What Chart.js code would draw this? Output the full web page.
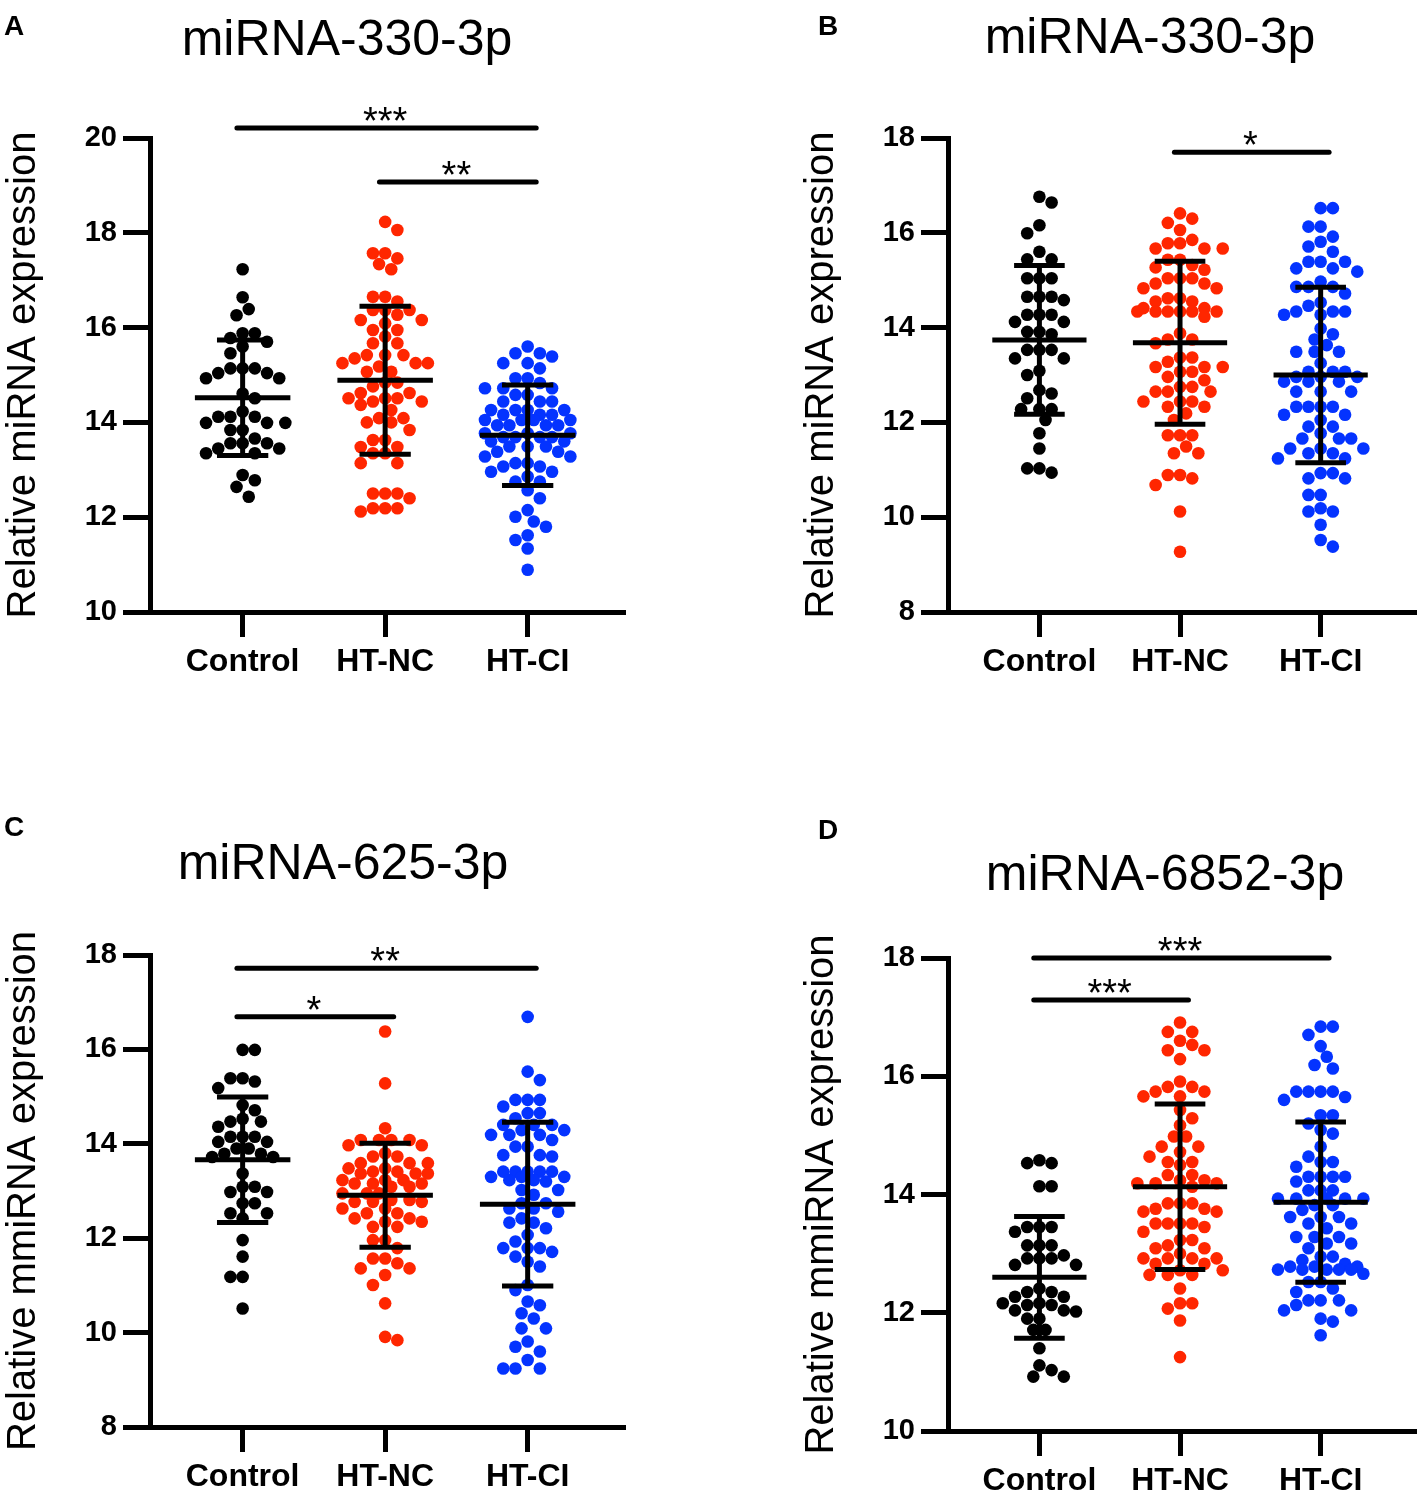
<!DOCTYPE html>
<html>
<head>
<meta charset="utf-8">
<title>miRNA expression</title>
<script src="https://cdn.jsdelivr.net/npm/chart.js@4.4.0/dist/chart.umd.min.js"></script>
<style>
  html, body { margin: 0; padding: 0; background: #fff; overflow: hidden; }
  body { width: 1423px; height: 1492px; position: relative; }
  .panel { position: absolute; }
  .panel canvas { display: block; }
</style>
</head>
<body>
<div class="panel" style="left:0;top:0"><canvas id="chartA" width="700" height="700"></canvas></div>
<div class="panel" style="left:798px;top:0"><canvas id="chartB" width="625" height="700"></canvas></div>
<div class="panel" style="left:0;top:817px"><canvas id="chartC" width="700" height="675"></canvas></div>
<div class="panel" style="left:798px;top:820px"><canvas id="chartD" width="625" height="672"></canvas></div>

<script>
const FONT = "'Liberation Sans', Arial, Helvetica, sans-serif";
const groups = ['Control', 'HT-NC', 'HT-CI'];
const colors = ['#000000', '#ff2600', '#0433ff'];

// A: miRNA-330-3p (first cohort)
const aControl = [17.23, 16.64, 16.39, 16.26, 15.88, 15.88, 15.78, 15.70, 15.60, 15.46, 15.14, 15.14, 15.14, 15.04, 15.04,
  14.93, 14.93, 14.61, 14.51, 14.23, 14.12, 14.12, 14.12, 13.99, 13.99, 13.99, 13.84, 13.84, 13.66, 13.56, 13.56, 13.56,
  13.45, 13.45, 13.35, 13.35, 12.89, 12.78, 12.64, 12.43];
const aHtNc = [18.23, 18.06, 17.57, 17.57, 17.46, 17.34, 17.23, 16.65, 16.65, 16.55, 16.37, 16.37, 16.37, 16.27, 16.16,
  16.16, 16.09, 15.95, 15.95, 15.81, 15.67, 15.67, 15.42, 15.42, 15.42, 15.35, 15.25, 15.25, 15.25, 15.18, 15.07, 15.07,
  14.84, 14.84, 14.76, 14.62, 14.62, 14.51, 14.51, 14.51, 14.44, 14.44, 14.37, 14.26, 14.09, 14.09, 14.00, 14.00, 13.84,
  13.63, 13.63, 13.48, 13.48, 13.35, 13.35, 13.14, 13.14, 12.50, 12.50, 12.50, 12.40, 12.19, 12.19, 12.19, 12.12];
const aHtCi = [15.60, 15.46, 15.46, 15.39, 15.25, 15.25, 15.14, 14.93, 14.93, 14.83, 14.72, 14.72, 14.72, 14.58, 14.58,
  14.44, 14.44, 14.44, 14.26, 14.26, 14.26, 14.26, 14.16, 14.16, 14.16, 14.05, 14.05, 14.05, 14.05, 13.94, 13.94, 13.94,
  13.94, 13.77, 13.77, 13.77, 13.69, 13.69, 13.69, 13.69, 13.60, 13.60, 13.49, 13.49, 13.49, 13.38, 13.38, 13.28, 13.28,
  13.14, 13.14, 13.07, 13.07, 12.96, 12.96, 12.86, 12.75, 12.75, 12.57, 12.40, 12.15, 12.01, 11.91, 11.80, 11.62, 11.52,
  11.34, 10.89];
const meansA = [14.52, 14.89, 13.73];
const sdsA = [1.22, 1.56, 1.06];
const bracketsA = [
  { from: 0, to: 2, y: 20.21, label: '***' },
  { from: 1, to: 2, y: 19.07, label: '**' }
];

// B: miRNA-330-3p (second cohort)
const bControl = [16.76, 16.64, 16.16, 15.99, 15.60, 15.44, 15.44, 15.04, 15.04, 15.04, 14.65, 14.65, 14.65, 14.58,
  14.27, 14.27, 14.27, 14.12, 14.12, 13.91, 13.91, 13.86, 13.53, 13.53, 13.53, 13.35, 13.35, 13.09, 13.00, 12.68, 12.61,
  12.51, 12.28, 12.28, 12.28, 12.05, 11.77, 11.45, 11.03, 11.03, 10.94];
const bHtNc = [16.41, 16.30, 16.21, 16.06, 15.85, 15.78, 15.78, 15.67, 15.67, 15.67, 15.43, 15.43, 15.32, 15.27, 15.22,
  15.04, 15.04, 15.04, 14.93, 14.93, 14.83, 14.83, 14.62, 14.62, 14.55, 14.55, 14.41, 14.41, 14.34, 14.34, 14.34, 14.34,
  14.34, 14.34, 14.23, 13.88, 13.75, 13.75, 13.67, 13.37, 13.37, 13.28, 13.17, 13.17, 13.17, 13.07, 13.07, 12.96, 12.89,
  12.75, 12.75, 12.65, 12.65, 12.65, 12.44, 12.44, 12.44, 12.33, 12.33, 12.19, 12.05, 11.73, 11.73, 11.73, 11.49, 11.35,
  11.35, 10.89, 10.89, 10.82, 10.68, 10.12, 9.27];
const bHtCi = [16.52, 16.52, 16.13, 16.13, 15.92, 15.81, 15.71, 15.60, 15.39, 15.39, 15.39, 15.25, 15.25, 15.18, 14.97,
  14.86, 14.86, 14.86, 14.72, 14.53, 14.46, 14.34, 14.34, 14.34, 14.27, 14.27, 13.98, 13.86, 13.75, 13.63, 13.49, 13.49,
  13.49, 13.25, 13.07, 13.07, 13.07, 12.96, 12.96, 12.96, 12.86, 12.86, 12.86, 12.65, 12.65, 12.65, 12.33, 12.33, 12.33,
  12.33, 12.16, 12.16, 12.05, 11.91, 11.91, 11.77, 11.66, 11.66, 11.66, 11.45, 11.45, 11.45, 11.35, 11.35, 11.24, 11.24,
  10.93, 10.93, 10.82, 10.82, 10.47, 10.47, 10.19, 10.12, 10.12, 9.84, 9.52, 9.38];
const meansB = [13.74, 13.68, 13.00];
const sdsB = [1.57, 1.72, 1.85];
const bracketsB = [
  { from: 1, to: 2, y: 17.70, label: '*' }
];

// C: miRNA-625-3p
const cControl = [15.99, 15.99, 15.39, 15.39, 15.32, 15.18, 14.82, 14.71, 14.53, 14.47, 14.47, 14.36, 14.15, 14.15, 14.15,
  14.04, 14.04, 13.90, 13.90, 13.79, 13.79, 13.72, 13.72, 13.37, 13.09, 13.09, 12.98, 12.98, 12.74, 12.74, 12.53, 12.53,
  12.42, 11.96, 11.61, 11.18, 11.18, 10.51];
const cHtNc = [16.38, 15.28, 14.33, 14.08, 14.08, 14.08, 14.08, 13.97, 13.97, 13.80, 13.73, 13.73, 13.59, 13.59,
  13.59, 13.48, 13.48, 13.41, 13.41, 13.37, 13.37, 13.37, 13.23, 13.23, 13.23, 13.16, 13.16,
  13.16, 13.09, 13.09, 12.95, 12.95, 12.95, 12.81, 12.81, 12.77, 12.77, 12.77, 12.63, 12.63, 12.53, 12.53, 12.42,
  12.42, 12.35, 12.35, 12.24, 12.24, 11.96, 11.96, 11.79, 11.57, 11.57, 11.47, 11.36, 11.36, 11.22, 11.01, 10.62, 9.91, 9.84];
const cHtCi = [16.69, 15.53, 15.35, 14.93, 14.93, 14.93, 14.79, 14.65, 14.65, 14.54, 14.40, 14.40, 14.40, 14.29, 14.29,
  14.19, 14.19, 14.19, 14.08, 13.94, 13.94, 13.76, 13.76, 13.73, 13.41, 13.41, 13.41, 13.41, 13.41, 13.30, 13.30,
  13.30, 13.23, 13.23, 13.20, 13.02, 13.02, 12.92, 12.74, 12.74, 12.63, 12.63, 12.56, 12.42, 12.33, 12.33,
  12.21, 12.07, 11.93, 11.79, 11.79, 11.79, 11.71, 11.61, 11.50, 11.40, 11.01, 10.90, 10.66, 10.58, 10.41, 10.30, 10.09,
  10.09, 9.81, 9.70, 9.60, 9.42, 9.24, 9.24, 9.24];
const meansC = [13.66, 12.91, 12.72];
const sdsC = [1.33, 1.10, 1.735];
const bracketsC = [
  { from: 0, to: 2, y: 17.72, label: '**' },
  { from: 0, to: 1, y: 16.69, label: '*' }
];

// D: miRNA-6852-3p
const dControl = [14.58, 14.53, 14.53, 14.14, 14.14, 13.45, 13.45, 13.45, 13.37, 13.14, 13.14, 13.14, 12.97, 12.92, 12.92,
  12.92, 12.81, 12.81, 12.41, 12.35, 12.35, 12.27, 12.27, 12.16, 12.16, 12.13, 12.13, 12.04, 12.04, 12.02, 11.90, 11.90,
  11.71, 11.71, 11.40, 11.11, 11.03, 10.92, 10.92];
const dHtNc = [16.91, 16.75, 16.75, 16.60, 16.53, 16.44, 16.44, 16.29, 15.91, 15.82, 15.82, 15.74, 15.74, 15.66, 15.66,
  15.43, 15.29, 15.17, 14.98, 14.98, 14.81, 14.81, 14.72, 14.64, 14.55, 14.55, 14.50, 14.33, 14.33, 14.24, 14.24, 14.19,
  14.19, 14.19, 14.13, 13.85, 13.85, 13.85, 13.76, 13.76, 13.71, 13.71, 13.51, 13.51, 13.51, 13.51, 13.45, 13.37, 13.23,
  13.23, 13.14, 13.09, 13.09, 13.00, 12.92, 12.92, 12.92, 12.92, 12.83, 12.83, 12.72, 12.72, 12.64, 12.64, 12.64, 12.41,
  12.16, 12.16, 12.07, 11.87, 11.25];
const dHtCi = [16.84, 16.84, 16.70, 16.51, 16.33, 16.19, 16.13, 15.74, 15.74, 15.74, 15.74, 15.65, 15.60, 15.34, 15.34,
  15.20, 15.09, 15.03, 14.81, 14.64, 14.55, 14.55, 14.47, 14.30, 14.30, 14.30, 14.30, 14.22, 14.07, 14.07, 14.07, 13.93,
  13.93, 13.93, 13.93, 13.93, 13.82, 13.82, 13.74, 13.62, 13.62, 13.62, 13.51, 13.51, 13.43, 13.28, 13.28, 13.28, 13.17,
  13.17, 13.09, 12.95, 12.95, 12.89, 12.83, 12.78, 12.78, 12.78, 12.73, 12.73, 12.73, 12.73, 12.73, 12.66, 12.52, 12.52,
  12.41, 12.35, 12.21, 12.21, 12.21, 12.13, 12.04, 12.04, 11.90, 11.85, 11.62];
const meansD = [12.60, 14.13, 13.87];
const sdsD = [1.03, 1.40, 1.355];
const bracketsD = [
  { from: 0, to: 2, y: 18.00, label: '***' },
  { from: 0, to: 1, y: 17.29, label: '***' }
];

// mean / SD bar widths in category units, dot size in px
const MEAN_HALF = 0.335;
const CAP_HALF = 0.18;
const DOT_R = 6.3;
const DOT_GAP = 12.2;
const HALF_STEP = 6.1;
const MAX_OFF = 46;

const panels = [
  { id: 'chartA', letter: 'A', title: 'miRNA-330-3p', yLabel: 'Relative miRNA expression', yMin: 10, yMax: 20,
    series: [aControl, aHtNc, aHtCi], means: meansA, sds: sdsA, brackets: bracketsA,
    w: 700, h: 700, plotTop: 138, plotBottom: 612, titleX: 347, titleY: 55, letterX: 4, letterY: 35 },
  { id: 'chartB', letter: 'B', title: 'miRNA-330-3p', yLabel: 'Relative miRNA expression', yMin: 8, yMax: 18,
    series: [bControl, bHtNc, bHtCi], means: meansB, sds: sdsB, brackets: bracketsB,
    w: 625, h: 700, plotTop: 138, plotBottom: 612, titleX: 352, titleY: 53, letterX: 20, letterY: 35 },
  { id: 'chartC', letter: 'C', title: 'miRNA-625-3p', yLabel: 'Relative mmiRNA expression', yMin: 8, yMax: 18,
    series: [cControl, cHtNc, cHtCi], means: meansC, sds: sdsC, brackets: bracketsC,
    w: 700, h: 675, plotTop: 138, plotBottom: 610, titleX: 343, titleY: 62, letterX: 4, letterY: 19 },
  { id: 'chartD', letter: 'D', title: 'miRNA-6852-3p', yLabel: 'Relative mmiRNA expression', yMin: 10, yMax: 18,
    series: [dControl, dHtNc, dHtCi], means: meansD, sds: sdsD, brackets: bracketsD,
    w: 625, h: 672, plotTop: 138, plotBottom: 611, titleX: 367, titleY: 70, letterX: 20, letterY: 19 }
];

function seg(ctx, x1, y1, x2, y2) {
  ctx.beginPath();
  ctx.moveTo(x1, y1);
  ctx.lineTo(x2, y2);
  ctx.stroke();
}

// mean ± SD bars, significance lines, titles
function overlay(p) {
  return {
    id: 'overlay' + p.letter,
    afterDatasetsDraw(chart) {
      const { ctx, scales: { x, y } } = chart;
      ctx.save();
      ctx.strokeStyle = '#000';
      ctx.fillStyle = '#000';
      ctx.lineWidth = 5;
      ctx.lineCap = 'butt';
      p.means.forEach((m, i) => {
        const s = p.sds[i];
        const ym = y.getPixelForValue(m);
        seg(ctx, x.getPixelForValue(i - MEAN_HALF), ym, x.getPixelForValue(i + MEAN_HALF), ym);
        seg(ctx, x.getPixelForValue(i), y.getPixelForValue(m - s), x.getPixelForValue(i), y.getPixelForValue(m + s));
        [m - s, m + s].forEach(v => {
          const yv = y.getPixelForValue(v);
          seg(ctx, x.getPixelForValue(i - CAP_HALF), yv, x.getPixelForValue(i + CAP_HALF), yv);
        });
      });

      ctx.lineCap = 'round';
      ctx.font = '38px ' + FONT;
      ctx.textAlign = 'center';
      ctx.textBaseline = 'alphabetic';
      p.brackets.forEach(b => {
        const yb = y.getPixelForValue(b.y);
        seg(ctx, x.getPixelForValue(b.from - 0.04), yb, x.getPixelForValue(b.to + 0.06), yb);
        ctx.fillText(b.label, x.getPixelForValue((b.from + b.to) / 2), yb + 6);
      });

      ctx.font = '50px ' + FONT;
      ctx.fillText(p.title, p.titleX, p.titleY);
      ctx.textAlign = 'left';
      ctx.font = 'bold 28px ' + FONT;
      ctx.fillText(p.letter, p.letterX, p.letterY);
      ctx.restore();
    }
  };
}

// spread dots sideways so they do not overlap (column scatter),
// keeping each column within MAX_OFF px of its centre
function swarm(chart) {
  const xs = chart.scales.x, ys = chart.scales.y;
  const maxStep = Math.floor(MAX_OFF / HALF_STEP);
  chart.data.datasets.forEach((ds, gi) => {
    const cx = xs.getPixelForValue(gi);
    const items = ds.data.map(pt => ({ pt, py: ys.getPixelForValue(pt.y), off: 0 }))
      .sort((a, b) => a.py - b.py);
    const placed = [];
    let side = 1;
    items.forEach(it => {
      const near = placed.filter(q => Math.abs(q.py - it.py) < DOT_GAP);
      let chosen = null, best = null, bestGap = -1;
      for (let step = 0; step <= maxStep && chosen === null; step++) {
        const tries = step === 0 ? [0] : [side * step * HALF_STEP, -side * step * HALF_STEP];
        for (const off of tries) {
          let gap = Infinity;
          near.forEach(q => { gap = Math.min(gap, Math.hypot(q.off - off, q.py - it.py)); });
          if (gap >= DOT_GAP) { chosen = off; break; }
          if (gap > bestGap + 0.5) { bestGap = gap; best = off; }
        }
      }
      if (chosen === null) chosen = best;
      if (chosen !== 0) side = -Math.sign(chosen);
      it.off = chosen;
      placed.push(it);
      it.pt.x = xs.getValueForPixel(cx + chosen);
    });
  });
  chart.update('none');
}

panels.forEach(p => {
  const chart = new Chart(document.getElementById(p.id), {
    type: 'scatter',
    data: {
      datasets: p.series.map((vals, i) => ({
        label: groups[i],
        data: vals.map(v => ({ x: i, y: v })),
        backgroundColor: colors[i],
        borderWidth: 0,
        pointRadius: DOT_R,
        pointHoverRadius: DOT_R,
        clip: false
      }))
    },
    options: {
      responsive: false,
      animation: false,
      devicePixelRatio: 1,
      events: [],
      layout: {
        padding: { left: 0, top: p.plotTop, right: p.w - 625, bottom: p.h - p.plotBottom - 60 }
      },
      plugins: {
        legend: { display: false },
        tooltip: { enabled: false }
      },
      scales: {
        x: {
          type: 'linear',
          min: -0.65,
          max: 2.683,
          afterFit: s => { s.height = 60; },
          afterBuildTicks: s => { s.ticks = groups.map((g, i) => ({ value: i })); },
          grid: { display: true, drawOnChartArea: false, drawTicks: true, tickLength: 25, tickWidth: 5, tickColor: '#000' },
          border: { display: true, width: 5, color: '#000' },
          ticks: {
            autoSkip: false, maxRotation: 0, padding: 6, color: '#000',
            font: { family: FONT, size: 32, weight: 'bold' },
            callback: v => groups[v]
          }
        },
        y: {
          min: p.yMin,
          max: p.yMax,
          afterFit: s => { s.width = 150; },
          grid: { display: true, drawOnChartArea: false, drawTicks: true, tickLength: 27, tickWidth: 5, tickColor: '#000' },
          border: { display: true, width: 5, color: '#000' },
          ticks: {
            stepSize: 2, padding: 6, color: '#000',
            font: { family: FONT, size: 29, weight: 'bold' }
          },
          title: {
            display: true, text: p.yLabel, color: '#000', padding: 0,
            font: { family: FONT, size: 40, weight: 'normal' }
          }
        }
      }
    },
    plugins: [overlay(p)]
  });
  swarm(chart);
});
</script>
</body>
</html>
